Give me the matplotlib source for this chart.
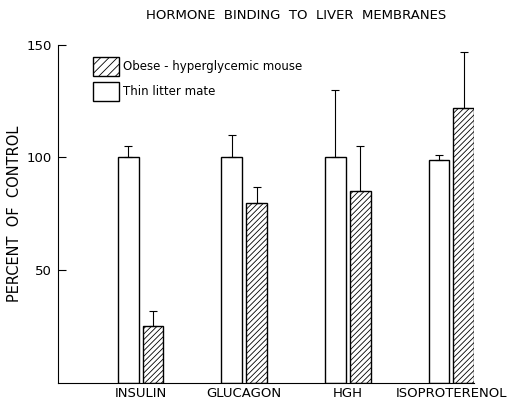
import numpy as np
import matplotlib
matplotlib.use('Agg')
import matplotlib.pyplot as plt
from matplotlib.patches import Patch

# data
hormones = ['INSULIN', 'GLUCAGON', 'HGH', 'ISOPROTERENOL']
thin_vals = [100, 100, 100, 99]
thin_errs = [5, 10, 30, 2]
obese_vals = [25, 80, 85, 122]
obese_errs = [7, 7, 20, 25]

plt.rcParams['hatch.linewidth'] = 0.6
plt.rcParams['font.family'] = ['DejaVu Sans']

fig = plt.figure(figsize=(5.12, 4.0), dpi=100)
ax = fig.add_axes([0.113, 0.043, 0.813, 0.845])

ind = np.arange(len(hormones))
width = 0.2
off = 0.12

ax.bar(ind - off, thin_vals, width=width, color='white', edgecolor='black',
       linewidth=1.0,
       yerr=[np.zeros(len(thin_errs)), thin_errs],
       error_kw=dict(elinewidth=0.8, ecolor='black', capsize=3, capthick=0.8))
ax.bar(ind + off, obese_vals, width=width, color='white', edgecolor='black',
       linewidth=1.0, hatch='//////',
       yerr=[np.zeros(len(obese_errs)), obese_errs],
       error_kw=dict(elinewidth=0.8, ecolor='black', capsize=3, capthick=0.8))

ax.set_xlim(-0.8, 3.22)
ax.set_ylim(0, 150)
ax.set_yticks([50, 100, 150])
ax.tick_params(axis='y', direction='in', length=6, width=0.8,
               labelsize=9.5, pad=4)
ax.set_xticks(ind)
ax.set_xticklabels(hormones, fontsize=9.5)
ax.tick_params(axis='x', length=0, pad=3)

ax.spines['top'].set_visible(False)
ax.spines['right'].set_visible(False)
ax.spines['left'].set_linewidth(0.8)
ax.spines['bottom'].set_linewidth(0.8)

ax.set_ylabel('PERCENT  OF  CONTROL', fontsize=10.5)
ax.yaxis.set_label_coords(-0.085, 0.5)
fig.text(0.578, 0.962, 'HORMONE  BINDING  TO  LIVER  MEMBRANES',
         ha='center', va='center', fontsize=9.5)

handles = [
    Patch(facecolor='white', edgecolor='black', hatch='////',
          label='Obese - hyperglycemic mouse'),
    Patch(facecolor='white', edgecolor='black', label='Thin litter mate'),
]
ax.legend(handles=handles, loc='upper left', bbox_to_anchor=(0.06, 0.995),
          frameon=False, fontsize=8.5, handlelength=2.2, handleheight=2.1,
          handletextpad=0.3, labelspacing=0.5)

fig.savefig('out.png', dpi=100)
